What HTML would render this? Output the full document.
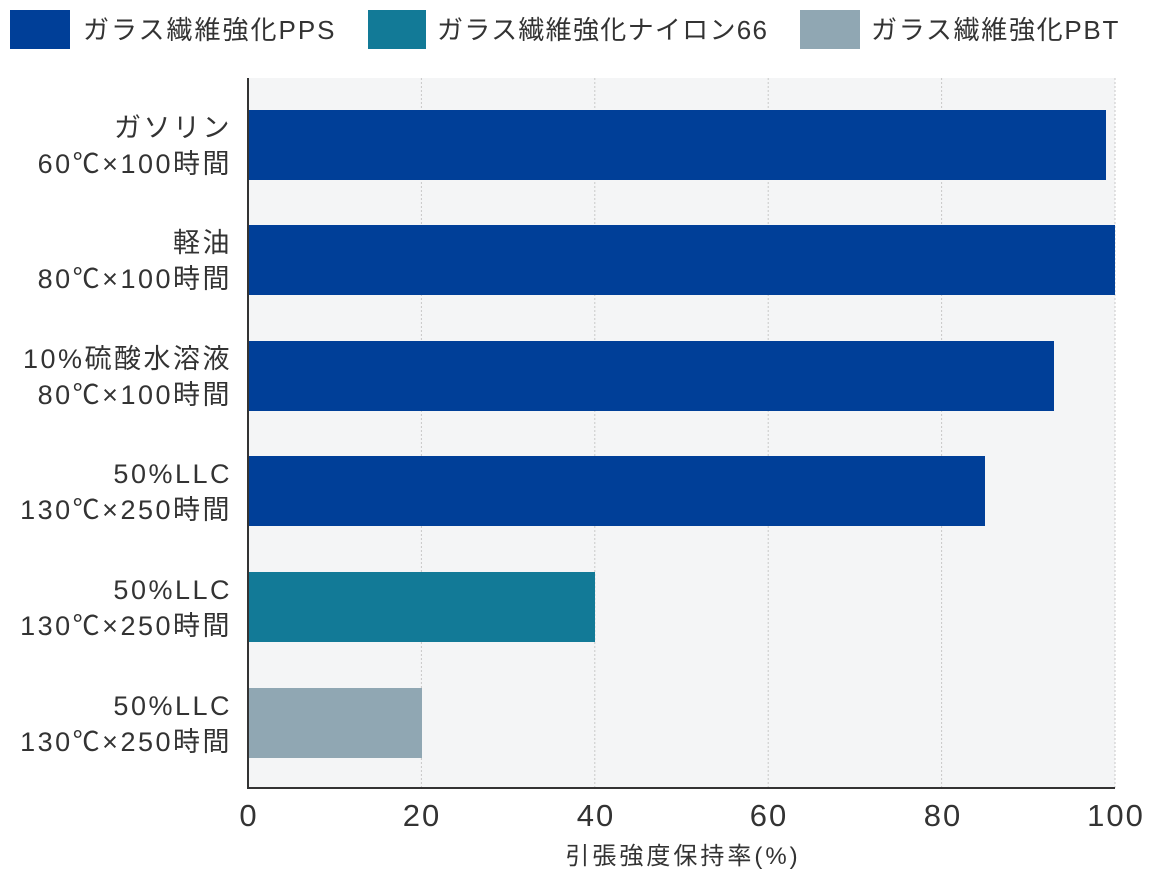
<!DOCTYPE html>
<html><head><meta charset="utf-8"><style>
body{margin:0;background:#fff;width:1160px;height:880px;overflow:hidden}
svg text{font-family:"Liberation Sans","Noto Sans CJK JP",sans-serif;fill:#333}
</style></head><body>
<svg width="1160" height="880" xmlns="http://www.w3.org/2000/svg">
<rect x="10" y="10" width="60" height="39" fill="#003f98"/>
<text x="83" y="39" font-size="26" letter-spacing="2">ガラス繊維強化PPS</text>
<rect x="368" y="10" width="58" height="39" fill="#127a97"/>
<text x="437" y="39" font-size="26" letter-spacing="1.3">ガラス繊維強化ナイロン66</text>
<rect x="800" y="10" width="60" height="39" fill="#90a7b3"/>
<text x="871" y="39" font-size="26" letter-spacing="1.7">ガラス繊維強化PBT</text>
<rect x="248" y="78" width="867" height="710" fill="#f4f5f6"/>
<g stroke="#c8c8c8" stroke-dasharray="2,2" stroke-width="1">
<line x1="421.4" y1="78" x2="421.4" y2="788"/><line x1="594.8" y1="78" x2="594.8" y2="788"/>
<line x1="768.2" y1="78" x2="768.2" y2="788"/><line x1="941.6" y1="78" x2="941.6" y2="788"/>
<line x1="1115" y1="78" x2="1115" y2="788"/></g>
<rect x="248" y="110" width="858" height="70" fill="#003f98"/>
<rect x="248" y="225" width="867" height="70" fill="#003f98"/>
<rect x="248" y="341" width="806" height="70" fill="#003f98"/>
<rect x="248" y="456" width="737" height="70" fill="#003f98"/>
<rect x="248" y="572" width="347" height="70" fill="#127a97"/>
<rect x="248" y="688" width="174" height="70" fill="#90a7b3"/>
<path d="M248 78V788H1115" stroke="#333" stroke-width="2" fill="none"/>
<g font-size="27" text-anchor="end" letter-spacing="2.5">
<text x="232" y="137">ガソリン</text><text x="232" y="173">60℃×100時間</text>
<text x="232" y="252">軽油</text><text x="232" y="288">80℃×100時間</text>
<text x="232" y="368">10%硫酸水溶液</text><text x="232" y="404">80℃×100時間</text>
<text x="232" y="483">50%LLC</text><text x="232" y="519">130℃×250時間</text>
<text x="232" y="599">50%LLC</text><text x="232" y="635">130℃×250時間</text>
<text x="232" y="715">50%LLC</text><text x="232" y="751">130℃×250時間</text>
</g>
<g font-size="31" text-anchor="middle" letter-spacing="2">
<text x="249" y="826">0</text><text x="422" y="826">20</text><text x="596" y="826">40</text>
<text x="769" y="826">60</text><text x="943" y="826">80</text><text x="1116" y="826">100</text>
</g>
<text x="683" y="864" font-size="24" text-anchor="middle" letter-spacing="3">引張強度保持率(%)</text>
</svg>
</body></html>
